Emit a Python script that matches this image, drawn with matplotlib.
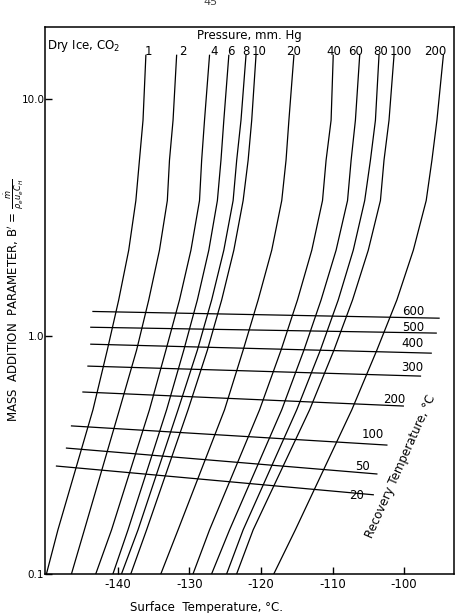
import numpy as np
import matplotlib
matplotlib.use("Agg")
import matplotlib.pyplot as plt

# mass addition parameter levels where the pressure curves were read (top -> bottom)
b_levels = [15.2, 8.1, 5.5, 3.72, 2.3, 1.42, 0.873, 0.49, 0.153, 0.1]

# surface temperature (deg C) of each constant-pressure curve at b_levels
pressures = ["1", "2", "4", "6", "8", "10", "20", "40", "60", "80", "100", "200"]
p_temps = [
    [-136.1, -136.5, -137.0, -137.5, -138.5, -139.9, -141.5, -143.5, -148.4, -150.0],
    [-131.8, -132.3, -132.8, -133.1, -134.2, -135.7, -137.4, -139.8, -144.7, -146.5],
    [-127.2, -127.9, -128.3, -128.6, -129.8, -131.4, -133.3, -135.6, -140.9, -143.1],
    [-124.5, -125.2, -125.6, -126.1, -127.3, -128.9, -130.8, -133.2, -138.6, -140.7],
    [-122.1, -122.8, -123.4, -123.9, -125.2, -126.9, -128.9, -131.6, -137.2, -139.5],
    [-120.7, -121.3, -121.8, -122.5, -123.8, -125.5, -127.5, -130.2, -136.0, -138.2],
    [-115.4, -116.1, -116.5, -117.1, -118.5, -120.4, -122.5, -125.1, -131.6, -134.0],
    [-109.9, -110.2, -110.9, -111.4, -112.9, -114.9, -117.2, -120.2, -127.2, -129.5],
    [-106.2, -106.8, -107.4, -107.9, -109.5, -111.6, -114.0, -117.1, -124.4, -126.9],
    [-103.5, -104.0, -104.7, -105.5, -107.1, -109.2, -111.7, -115.0, -122.5, -124.8],
    [-101.4, -102.1, -102.8, -103.3, -105.0, -107.2, -109.8, -113.2, -121.1, -123.4],
    [-94.5, -95.4, -96.1, -96.9, -98.7, -101.0, -103.8, -107.3, -115.2, -118.2],
]
# pressure label positions (deg C) at the top
p_label_t = [-135.7, -130.9, -126.5, -124.2, -122.1, -120.3, -115.4,
             -109.8, -106.8, -103.3, -100.4, -95.6]
p_label_b = 15.7

# recovery temperature lines: end points
recovery = ["600", "500", "400", "300", "200", "100", "50", "20"]
rec_t_left = [-143.5, -143.8, -143.8, -144.2, -144.9, -146.5, -147.2, -148.6]
rec_t_right = [-95.1, -95.5, -96.2, -97.7, -100.1, -102.4, -103.8, -104.3]
rec_b_left = [1.27, 1.09, 0.925, 0.748, 0.582, 0.419, 0.338, 0.284]
rec_b_right = [1.19, 1.03, 0.848, 0.679, 0.508, 0.348, 0.263, 0.215]
rec_label_t = [-98.7, -98.7, -98.8, -98.9, -101.3, -104.3, -105.8, -106.7]
rec_label_b = [1.27, 1.09, 0.931, 0.739, 0.542, 0.384, 0.284, 0.214]

plt.rcParams['font.family'] = ['DejaVu Sans']

fig = plt.figure(figsize=(4.55, 6.13), dpi=100)
ax = fig.add_axes([0.099, 0.064, 0.899, 0.892])

for temps in p_temps:
    ax.plot(temps, b_levels, color='black', lw=0.9)
for name, t in zip(pressures, p_label_t):
    ax.text(t, p_label_b, name, fontsize=8.5, ha='center', va='center')

for i in range(len(recovery)):
    ax.plot([rec_t_left[i], rec_t_right[i]], [rec_b_left[i], rec_b_right[i]],
            color='black', lw=0.9)
    ax.text(rec_label_t[i], rec_label_b[i], recovery[i], fontsize=8.5,
            ha='center', va='center')

ax.set_yscale('log')
ax.set_xlim(-150.2, -93)
ax.set_ylim(0.1, 20)
ax.set_xticks([-140, -130, -120, -110, -100])
ax.set_xticklabels(['-140', '-130', '-120', '-110', '-100'])
ax.set_yticks([0.1, 1.0, 10.0])
ax.set_yticklabels(['0.1', '1.0', '10.0'])
ax.minorticks_off()
ax.tick_params(direction='in', length=5, width=1, labelsize=8.5, pad=3)
ax.tick_params(axis='y', pad=0.5, labelsize=7.5)
for s in ax.spines.values():
    s.set_linewidth(1.1)

ax.set_xlabel('Surface  Temperature, °C.', fontsize=8.5)
ax.xaxis.set_label_coords(0.394, -0.05)
ax.set_ylabel(r"MASS  ADDITION  PARAMETER, B$^{\prime}$ = $\frac{\dot{m}}{\rho_e u_e C_H}$",
              fontsize=8.5)
ax.yaxis.set_label_coords(-0.045, 0.5)

ax.text(0.005, 0.98, 'Dry Ice, CO$_2$', transform=ax.transAxes, fontsize=8.5,
        ha='left', va='top')
ax.text(0.5, 0.9835, 'Pressure, mm. Hg', transform=ax.transAxes, fontsize=8.5,
        ha='center', va='center')
ax.text(0.870, 0.197, 'Recovery Temperature, °C', transform=ax.transAxes,
        fontsize=8.5, rotation=66, ha='center', va='center')

fig.text(0.462, 0.997, '45', fontsize=8, ha='center', va='center', color='#444444')

fig.savefig('out.png', dpi=100)
